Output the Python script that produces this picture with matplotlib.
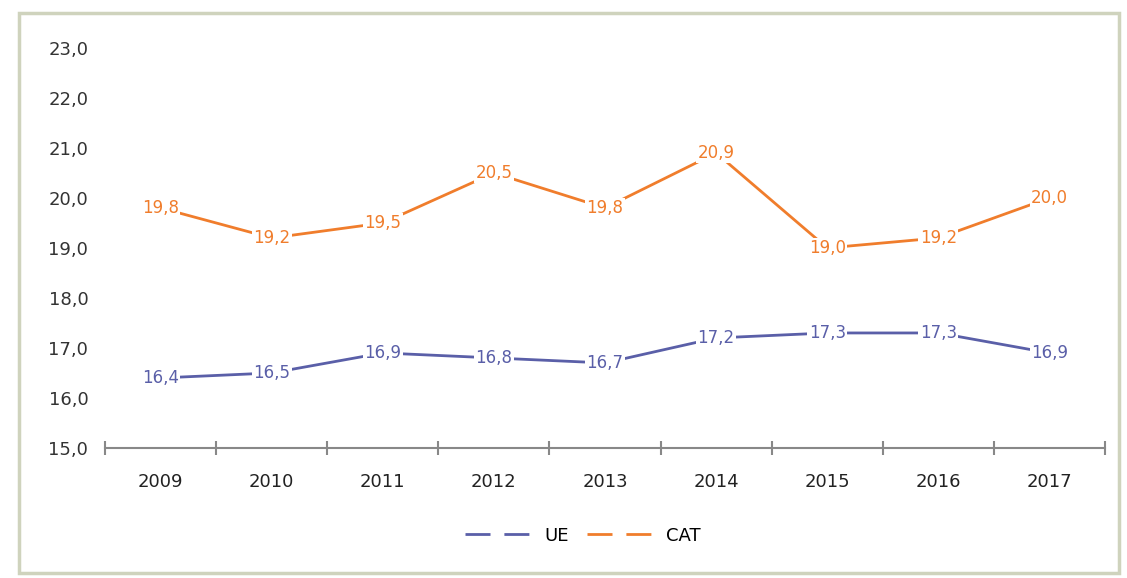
import matplotlib.pyplot as plt

years = ['2009', '2010', '2011', '2012', '2013', '2014', '2015', '2016', '2017']
ue = [16.4, 16.5, 16.9, 16.8, 16.7, 17.2, 17.3, 17.3, 16.9]
cat = [19.8, 19.2, 19.5, 20.5, 19.8, 20.9, 19.0, 19.2, 20.0]
yticks = [15, 16, 17, 18, 19, 20, 21, 22, 23]

blue = '#5a5fa8'
orange = '#f07d2c'

fig = plt.figure(figsize=(11.27, 5.78), dpi=100)
ax = fig.add_axes([0.0932, 0.225, 0.8873, 0.692])

# outer frame
frame = plt.Rectangle((0.017, 0.008), 0.976, 0.97, transform=fig.transFigure,
                      fill=False, edgecolor='#cfd3bd', linewidth=2.5)
fig.patches.append(frame)

xs = list(range(len(years)))
ax.plot(xs, ue, color=blue, lw=2, label='UE', zorder=2)
ax.plot(xs, cat, color=orange, lw=2, label='CAT', zorder=2)

for x, v in zip(xs, ue):
    ax.text(x, v, '{:.1f}'.format(v).replace('.', ','), ha='center', va='center',
            fontsize=12, color=blue, zorder=3,
            bbox=dict(facecolor='white', edgecolor='none', pad=1))
for x, v in zip(xs, cat):
    ax.text(x, v, '{:.1f}'.format(v).replace('.', ','), ha='center', va='center',
            fontsize=12, color=orange, zorder=3,
            bbox=dict(facecolor='white', edgecolor='none', pad=1))

ax.set_xlim(-0.5, len(years) - 0.5)
ax.set_ylim(15, 23)
ax.set_yticks(yticks)
ax.set_yticklabels(['{:.1f}'.format(t).replace('.', ',') for t in yticks], fontsize=13, color='#333333')
ax.set_xticks(xs)
ax.set_xticklabels(years, fontsize=13, color='#222222')
ax.set_xticks([i - 0.5 for i in range(len(years) + 1)], minor=True)
ax.tick_params(axis='x', which='major', length=0, pad=18)
ax.tick_params(axis='x', which='minor', length=10, width=1.5, color='#888888', direction='inout')
ax.tick_params(axis='y', length=0, pad=12)

for s in ['top', 'right', 'left']:
    ax.spines[s].set_visible(False)
ax.spines['bottom'].set_color('#888888')
ax.spines['bottom'].set_linewidth(1.5)

leg = fig.legend(loc='center', bbox_to_anchor=(0.517, 0.073), ncol=2, frameon=False,
                 fontsize=13, handlelength=4.2, columnspacing=1.0, handletextpad=0.2)
for h in leg.get_lines():
    h.set_linestyle((0, (9, 5)))

fig.savefig('out.png', dpi=100)
